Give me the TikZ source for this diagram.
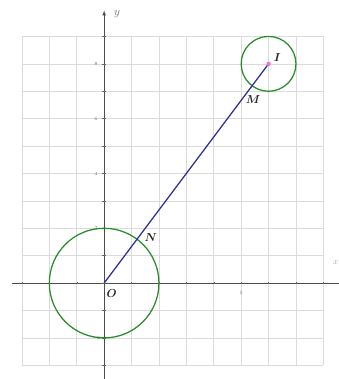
\documentclass[tikz,border=0pt]{standalone}
\usepackage{amsmath}
\usepackage{amssymb}
\usepackage{tikz}

\definecolor{circgreen}{RGB}{40,140,40}
\definecolor{segblue}{RGB}{45,45,160}

\begin{document}
\begin{tikzpicture}
\tikzstyle{every node}+=[inner sep=0pt]
\tikzstyle{axis}=[black!70, line width=0.8pt]
\tikzstyle{ticklabel}=[black!55, font=\tiny]
\tikzstyle{ptlabel}=[black!85, font=\large]
\useasboundingbox (-3.8,-3.5) rectangle (8.57,10.33);
\clip (-3.8,-3.5) rectangle (8.57,10.33);
% grid and axes
\draw [black!14, line width=0.7pt] (-3,-3) grid (8,9);
\draw [axis] (-3.35,0) -- (8.8,0);
\draw [axis, -latex] (0,-3.6) -- (0,9.95);
\foreach \t in {-3,...,8} \draw [black!60] (\t,-0.05) -- (\t,0.05);
\foreach \t in {-3,...,9} \draw [black!60] (-0.06,\t) -- (0.06,\t);
\draw (0.47,9.82) node [black!60, font=\large] {$y$};
\draw (8.45,0.75) node [black!35, font=\small] {$x$};
\foreach \t in {8,6,4,2,-2} \draw (-0.3,\t) node [ticklabel] {$\t$};
\draw (5,-0.37) node [ticklabel] {$5$};
% points
\coordinate (O) at (0,0);
\coordinate (I) at (6,8);
\coordinate (N) at (1.2,1.6);
\coordinate (M) at (5.4,7.2);
\draw [circgreen, line width=1.3pt] (O) circle (2);
\draw [circgreen, line width=1.3pt] (I) circle (1);
\draw [segblue, line width=1.3pt] (O) -- (I);
\fill [magenta!55] (I) circle (0.08);
\node [ptlabel] (lO) at (0.27,-0.37) {$\boldsymbol{O}$};
\node [ptlabel] (lN) at (1.7,1.66) {$\boldsymbol{N}$};
\node [ptlabel] (lM) at (5.44,6.7) {$\boldsymbol{M}$};
\node [ptlabel] (lI) at (6.32,8.22) {$\boldsymbol{I}$};
\end{tikzpicture}
\end{document}
